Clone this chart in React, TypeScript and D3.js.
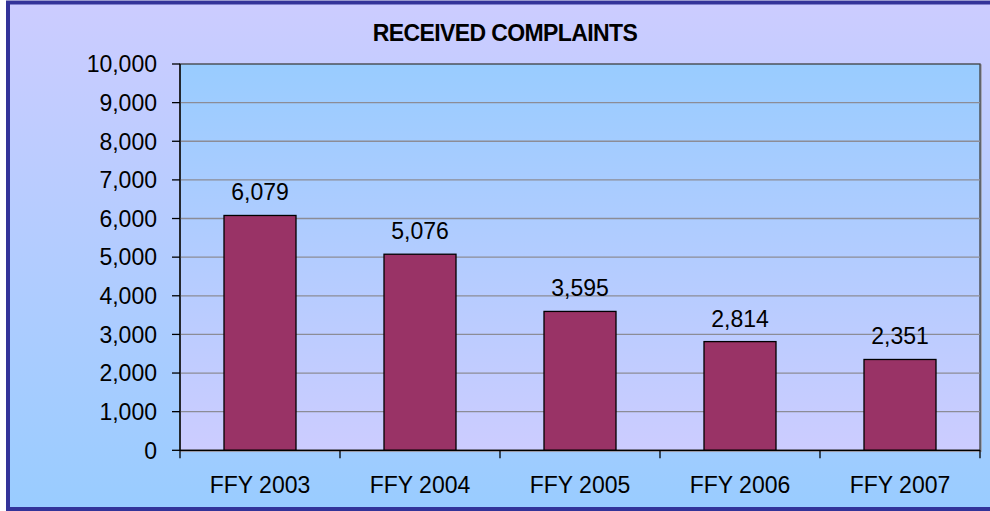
import React from "react";
import * as d3 from "d3";

const categories = ["FFY 2003", "FFY 2004", "FFY 2005", "FFY 2006", "FFY 2007"];
const values = [6079, 5076, 3595, 2814, 2351];
const yTicks = [0, 1000, 2000, 3000, 4000, 5000, 6000, 7000, 8000, 9000, 10000];
const title = "RECEIVED COMPLAINTS";

const W = 990;
const H = 511;
const plot = { left: 180, right: 980, top: 64, bottom: 450.3 };
const FONT = "'Liberation Sans', Arial, Helvetica, sans-serif";

export default function App() {
  const x = d3
    .scaleBand<string>()
    .domain(categories)
    .range([plot.left, plot.right])
    .paddingInner(0.55)
    .paddingOuter(0.275);
  const xb = d3.scaleBand<string>().domain(categories).range([plot.left, plot.right]);
  const y = d3.scaleLinear().domain([0, 10000]).range([plot.bottom, plot.top]);
  const fmt = d3.format(",");

  const boundaries = [plot.left, ...categories.map((c) => (xb(c) as number) + xb.bandwidth())];

  return (
    <svg
      width={W}
      height={H}
      style={{ position: "absolute", left: 0, top: 0, display: "block" }}
      fontFamily={FONT}
    >
      <defs>
        <linearGradient id="outerGrad" x1="0" y1="0" x2="0" y2="1">
          <stop offset="0" stopColor="#CCCCFF" />
          <stop offset="1" stopColor="#99CCFF" />
        </linearGradient>
        <linearGradient id="plotGrad" x1="0" y1="0" x2="0" y2="1">
          <stop offset="0" stopColor="#99CCFF" />
          <stop offset="1" stopColor="#CCCCFF" />
        </linearGradient>
      </defs>

      <rect x={8} y={2.5} width={1000} height={506.5} fill="url(#outerGrad)" stroke="#333399" strokeWidth={4} />

      <text x={505} y={41} textAnchor="middle" fontWeight="bold" fontSize={23} fill="#000" letterSpacing={-0.6}>
        {title}
      </text>

      {/* plot area */}
      <rect
        x={plot.left + 1}
        y={plot.top + 1}
        width={plot.right - plot.left}
        height={plot.bottom - plot.top}
        fill="none"
        stroke="#9a9aa8"
        strokeWidth={1.5}
      />
      <rect
        x={plot.left}
        y={plot.top}
        width={plot.right - plot.left}
        height={plot.bottom - plot.top}
        fill="url(#plotGrad)"
        stroke="#404040"
        strokeWidth={1.3}
      />

      {/* gridlines */}
      {yTicks
        .filter((t) => t > 0 && t < 10000)
        .map((t) => (
          <line key={"g" + t} x1={plot.left} x2={plot.right} y1={y(t)} y2={y(t)} stroke="#8c8c96" strokeWidth={1.3} />
        ))}

      {/* bars */}
      {categories.map((c, i) => (
        <rect
          key={c}
          x={x(c)}
          y={y(values[i])}
          width={x.bandwidth()}
          height={plot.bottom - y(values[i])}
          fill="#993366"
          stroke="#000"
          strokeWidth={1.3}
        />
      ))}

      {/* value labels */}
      {categories.map((c, i) => (
        <text
          key={"v" + c}
          x={(x(c) as number) + x.bandwidth() / 2}
          y={y(values[i]) - 15}
          textAnchor="middle"
          fontSize={23}
          fill="#000"
        >
          {fmt(values[i])}
        </text>
      ))}

      {/* y axis */}
      <line x1={plot.left} x2={plot.left} y1={plot.top} y2={plot.bottom} stroke="#000" strokeWidth={1.3} />
      {yTicks.map((t) => (
        <g key={"y" + t}>
          <line x1={plot.left - 8} x2={plot.left} y1={y(t)} y2={y(t)} stroke="#000" strokeWidth={1.3} />
          <text x={157} y={y(t)} dy="0.36em" textAnchor="end" fontSize={23} fill="#000">
            {fmt(t)}
          </text>
        </g>
      ))}

      {/* x axis */}
      <line x1={plot.left} x2={plot.right} y1={plot.bottom} y2={plot.bottom} stroke="#000" strokeWidth={1.3} />
      {boundaries.map((b, i) => (
        <line key={"xt" + i} x1={b} x2={b} y1={plot.bottom} y2={plot.bottom + 8} stroke="#000" strokeWidth={1.3} />
      ))}
      {categories.map((c) => (
        <text
          key={"x" + c}
          x={(xb(c) as number) + xb.bandwidth() / 2}
          y={493}
          textAnchor="middle"
          fontSize={23}
          fill="#000"
        >
          {c}
        </text>
      ))}
    </svg>
  );
}
